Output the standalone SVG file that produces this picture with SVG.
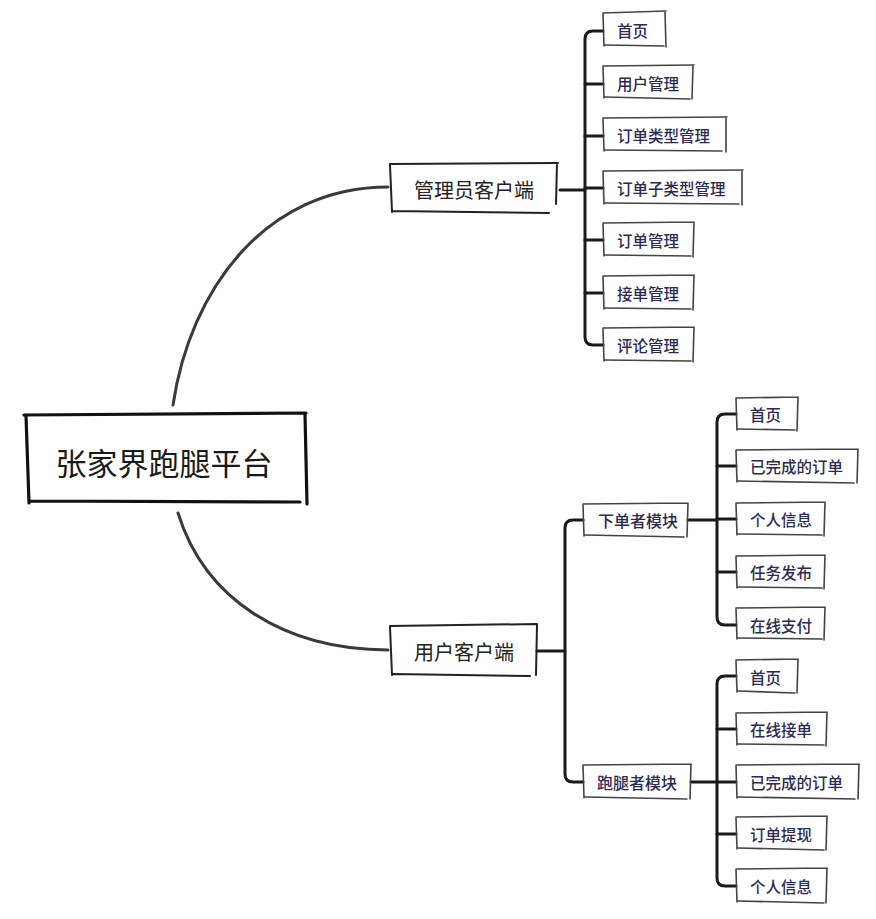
<svg xmlns="http://www.w3.org/2000/svg" width="876" height="919" viewBox="0 0 876 919">
<style>
.bg{fill:#fff}
.root{fill:none;stroke:#111;stroke-width:3.2;stroke-linejoin:round;stroke-linecap:round}
.mid{fill:none;stroke:#222;stroke-width:2;stroke-linejoin:round;stroke-linecap:round}
.leaf{fill:none;stroke:#444;stroke-width:1.6;stroke-linejoin:round;stroke-linecap:round}
.con{fill:none;stroke:#1a1a1a;stroke-width:3;stroke-linecap:round;stroke-linejoin:round}
.curve{fill:none;stroke:#3a3a3a;stroke-width:3;stroke-linecap:round}
text{font-family:"Noto Sans CJK SC","Noto Sans",sans-serif;dominant-baseline:central}
.rt{font-size:31px;fill:#1a1a1a;text-anchor:middle}
.mt{font-size:20px;fill:#222;text-anchor:middle}
.st{font-size:16px;fill:#2a2a50;font-weight:500}
.lt{font-size:15.5px;fill:#2a2a55;font-weight:500}
</style>
<rect class="bg" x="0" y="0" width="876" height="919"/>
<g id="connectors">
<path class="curve" d="M173,405 C190,290 265,187 388,187"/>
<path class="curve" d="M178,513 C205,600 285,650 388,650"/>
<path class="con" d="M560,190 H585"/>
<path class="con" d="M603,31 H593 Q585,31 585,39 V337 Q585,345 593,345 H603"/>
<path class="con" d="M585,84 H603 M585,136 H603 M585,188 H603 M585,240 H603 M585,293 H603"/>
<path class="con" d="M537,651 H565"/>
<path class="con" d="M583,520 H573 Q565,520 565,528 V774 Q565,782 573,782 H583"/>
<path class="con" d="M688,520 H717"/>
<path class="con" d="M736,414 H725 Q717,414 717,422 V617 Q717,625 725,625 H736"/>
<path class="con" d="M717,466 H736 M717,519 H736 M717,572 H736"/>
<path class="con" d="M691,782 H717"/>
<path class="con" d="M736,676 H725 Q717,676 717,684 V878 Q717,886 725,886 H736"/>
<path class="con" d="M717,729 H736 M717,782 H736 M717,834 H736"/>
</g>
<g id="root">
<path class="root" d="M24,415 L306,413 M305,414 L307,504 M300,502 L29,501 M29,503 L26,416"/>
<text class="rt" x="164" y="461">张家界跑腿平台</text>
</g>
<g id="admin">
<path class="mid" d="M390,164 L558,163 M557,163 L556,204 M549,213 L392,211 M392,212 L390,165"/>
<text class="mt" x="474" y="189">管理员客户端</text>
</g>
<g id="admin-home">
<path class="leaf" d="M603,13 L666,11 M665,12 L666,47 M664,46 L605,45 M604,46 L603,14"/>
<text class="lt" x="617" y="30">首页</text>
</g>
<g id="admin-user">
<path class="leaf" d="M603,66 L694,65 M693,65 L692,99 M690,99 L605,97 M604,98 L603,67"/>
<text class="lt" x="617" y="83">用户管理</text>
</g>
<g id="admin-ordertype">
<path class="leaf" d="M603,118 L727,117 M726,117 L726,152 M722,151 L605,150 M604,151 L603,119"/>
<text class="lt" x="617" y="135">订单类型管理</text>
</g>
<g id="admin-ordersubtype">
<path class="leaf" d="M603,171 L743,170 M742,170 L742,205 M739,204 L605,203 M604,204 L603,172"/>
<text class="lt" x="617" y="188">订单子类型管理</text>
</g>
<g id="admin-order">
<path class="leaf" d="M603,223 L694,222 M694,222 L693,257 M691,256 L605,255 M604,256 L603,224"/>
<text class="lt" x="617" y="240">订单管理</text>
</g>
<g id="admin-accept">
<path class="leaf" d="M603,276 L694,275 M694,275 L693,310 M691,309 L605,308 M604,309 L603,277"/>
<text class="lt" x="617" y="293">接单管理</text>
</g>
<g id="admin-comment">
<path class="leaf" d="M603,328 L694,327 M694,327 L693,362 M691,361 L605,360 M604,361 L603,329"/>
<text class="lt" x="617" y="345">评论管理</text>
</g>
<g id="user">
<path class="mid" d="M390,626 L537,624 M537,625 L536,675 M530,676 L393,674 M392,675 L390,627"/>
<text class="mt" x="464" y="651">用户客户端</text>
</g>
<g id="orderer">
<path class="leaf" d="M583,504 L688,503 M688,503 L687,537 M684,537 L585,535 M584,536 L583,505"/>
<text class="st" x="598" y="520">下单者模块</text>
</g>
<g id="runner">
<path class="leaf" d="M583,765 L691,764 M691,764 L690,799 M687,799 L585,797 M584,798 L583,766"/>
<text class="st" x="597" y="782">跑腿者模块</text>
</g>
<g id="o-home">
<path class="leaf" d="M736,398 L798,397 M798,397 L797,431 M795,430 L738,429 M737,430 L736,399"/>
<text class="lt" x="750" y="414">首页</text>
</g>
<g id="o-done">
<path class="leaf" d="M736,450 L858,449 M858,449 L857,483 M854,483 L738,481 M737,482 L736,451"/>
<text class="lt" x="750" y="466">已完成的订单</text>
</g>
<g id="o-info">
<path class="leaf" d="M736,503 L825,502 M825,502 L824,536 M822,535 L738,534 M737,535 L736,504"/>
<text class="lt" x="750" y="519">个人信息</text>
</g>
<g id="o-publish">
<path class="leaf" d="M736,556 L825,555 M825,555 L824,589 M822,588 L738,587 M737,588 L736,557"/>
<text class="lt" x="750" y="572">任务发布</text>
</g>
<g id="o-pay">
<path class="leaf" d="M736,608 L825,607 M825,607 L824,640 M822,639 L738,638 M737,639 L736,609"/>
<text class="lt" x="750" y="625">在线支付</text>
</g>
<g id="r-home">
<path class="leaf" d="M736,660 L798,659 M798,659 L797,693 M795,693 L738,691 M737,692 L736,661"/>
<text class="lt" x="750" y="677">首页</text>
</g>
<g id="r-accept">
<path class="leaf" d="M736,713 L827,712 M827,712 L826,746 M824,745 L738,744 M737,745 L736,714"/>
<text class="lt" x="750" y="729">在线接单</text>
</g>
<g id="r-done">
<path class="leaf" d="M736,765 L859,764 M859,764 L858,799 M855,799 L738,797 M737,798 L736,766"/>
<text class="lt" x="750" y="782">已完成的订单</text>
</g>
<g id="r-withdraw">
<path class="leaf" d="M736,817 L827,816 M827,816 L826,850 M824,850 L738,848 M737,849 L736,818"/>
<text class="lt" x="750" y="834">订单提现</text>
</g>
<g id="r-info">
<path class="leaf" d="M736,869 L827,868 M827,868 L826,903 M824,903 L738,901 M737,902 L736,870"/>
<text class="lt" x="750" y="886">个人信息</text>
</g>
</svg>
